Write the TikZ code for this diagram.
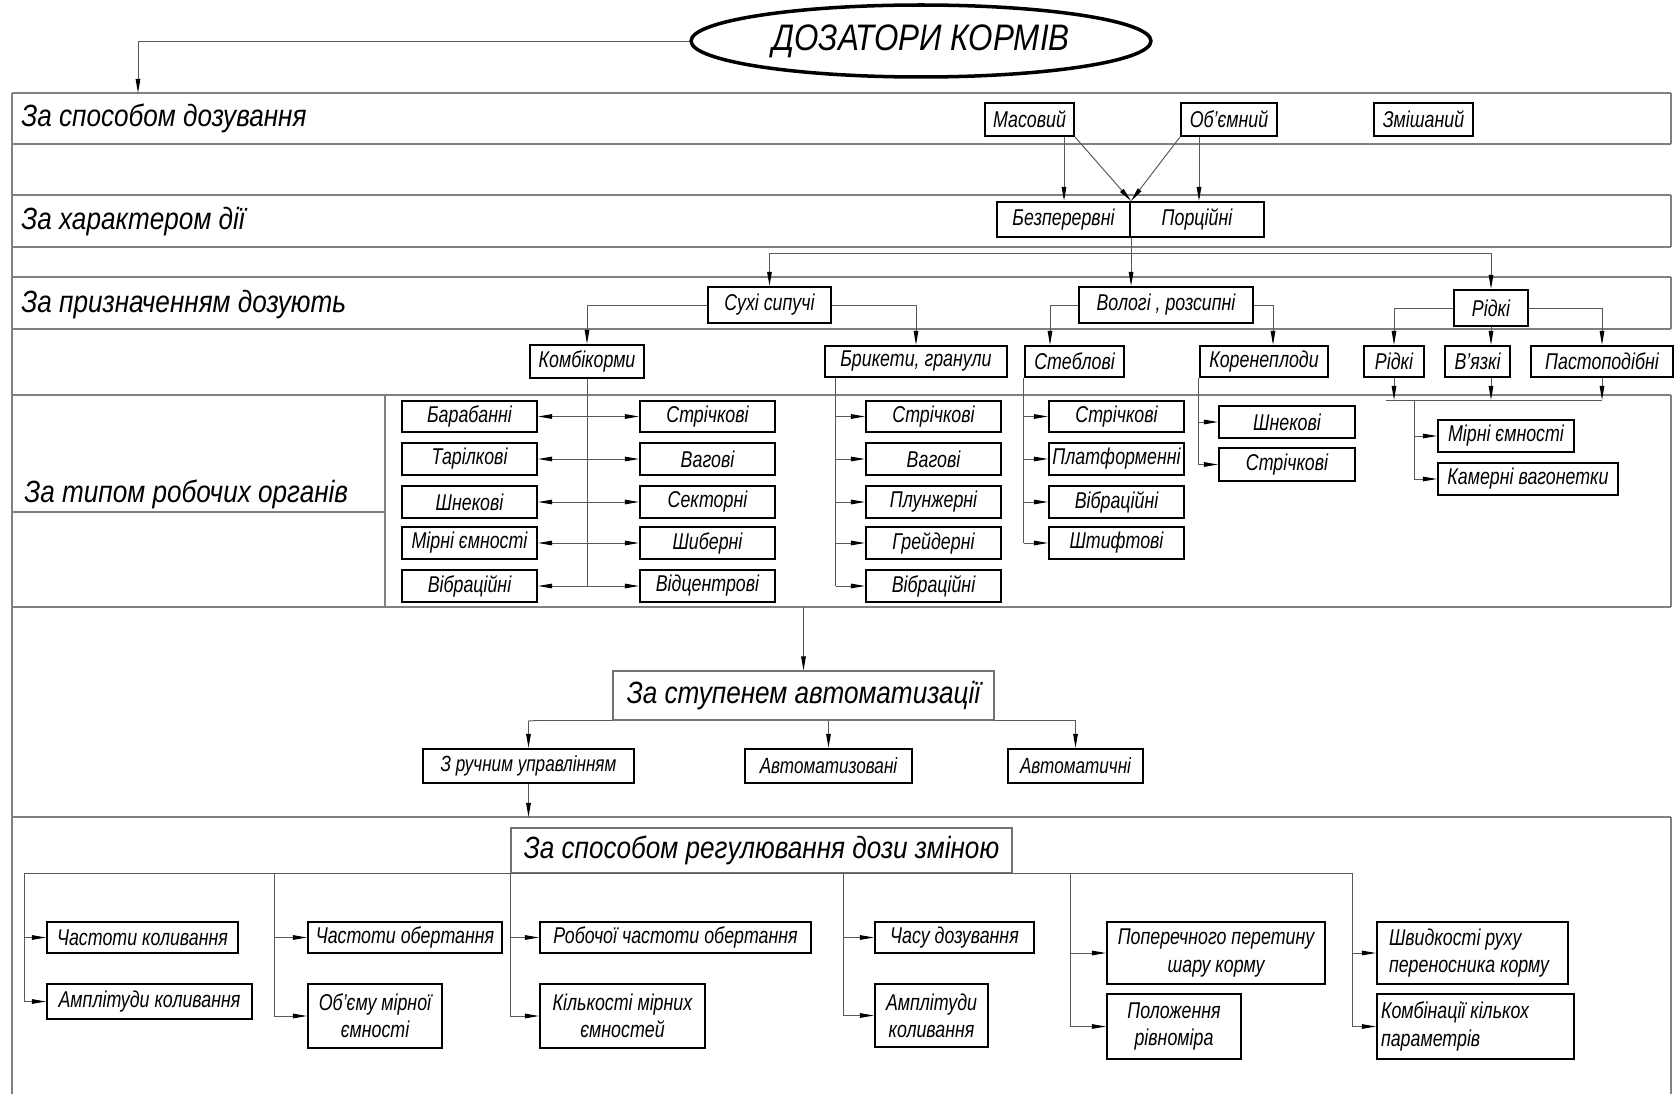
\documentclass[tikz,border=0pt]{standalone}
\usepackage{fontspec}
\setmainfont{Liberation Sans}[FakeStretch=0.85]
\newfontfamily\myBoxFam{Liberation Sans}[FakeStretch=0.78]
\usetikzlibrary{shapes.geometric,arrows.meta,calc}
\newcommand\myBxFont{\myBoxFam\fontsize{13}{15.5}\selectfont\itshape}
\newcommand\mySmFont{\myBoxFam\fontsize{12.5}{14}\selectfont\itshape}
\newcommand\myHdFont{\fontsize{17.5}{20}\selectfont\itshape}
\newcommand\myTtFont{\fontsize{21}{24}\selectfont\itshape}
\newcommand\mybox[7][]{\node[bx,minimum width={(#5-#3)*0.02cm},minimum height={(#6-#4)*0.02cm},#1] (#2) at ({(#3+#5)/2},{(#4+#6)/2}) {#7};}
\tikzset{
 bx/.style={draw=black, line width=1.2pt, fill=white, inner sep=0pt, align=center, font=\myBxFont},
 hdr/.style={draw=black!55, line width=0.6pt, font=\myHdFont},
 band/.style={draw=black!50, line width=0.7pt},
 conn/.style={draw=black!65, line width=0.55pt},
 arr/.style={conn, -{Triangle[length=8pt,width=2.6pt,color=black]}},
 darr/.style={conn, {Triangle[length=8pt,width=2.6pt,color=black]}-{Triangle[length=8pt,width=2.6pt,color=black]}},
 lbl/.style={anchor=base west, inner sep=0pt, font=\myHdFont},
}
\begin{document}
\begin{tikzpicture}[x=0.02cm,y=-0.02cm]
\useasboundingbox (0,0) rectangle (1679,1094);
\fill[white] (0,0) rectangle (1679,1094);
% bands
\foreach \yy in {93,144,195,247,277,329,395,607,817}
  \draw[band] (12,\yy) -- (1671,\yy);
\draw[band] (12,93) -- (12,1094);
\draw[band] (1671,93) -- (1671,144);
\draw[band] (1671,195) -- (1671,247);
\draw[band] (1671,277) -- (1671,329);
\draw[band] (1671,395) -- (1671,607);
\draw[band] (1671,817) -- (1671,1094);
\draw[band] (12,512) -- (385,512);
\draw[band] (385,395) -- (385,607);
% band labels
\node[lbl] (l1) at (21,127) {За способом дозування};
\node[lbl] (l2) at (21,230) {За характером дії};
\node[lbl] (l3) at (21,313) {За призначенням дозують};
\node[lbl] (l4) at (24,502) {За типом робочих органів};
% title
\node[ellipse, draw, line width=2pt, fill=white, minimum width=9.2cm, minimum height=1.44cm, inner sep=0pt, font=\myTtFont] (title) at (921,41) {ДОЗАТОРИ КОРМІВ};
\coordinate (c1) at (138,93);
\draw[arr] (title.west) -| (c1);
% row 1
\mybox{mas}{985}{103}{1074}{136}{Масовий}
\mybox{obj}{1181}{103}{1277}{136}{Об’ємний}
\mybox{zmi}{1374}{103}{1473}{136}{Змішаний}
% row 2
\mybox{bez}{997}{202}{1130}{237}{Безперервні}
\mybox{por}{1130}{202}{1264}{237}{Порційні}
\draw[arr] (mas.south -| 1064,0) -- (bez.north -| 1064,0);
\draw[arr] (mas.south east) -- (bez.north east);
\draw[arr] (obj.south west) -- (bez.north east);
\draw[arr] (obj.south -| 1199,0) -- (por.north -| 1199,0);
% row 3
\mybox{suh}{708}{287}{831}{323}{Сухі сипучі}
\mybox{vol}{1079}{287}{1253}{323}{Вологі , розсипні}
\mybox{rid}{1454}{290}{1528}{326}{Рідкі}
\coordinate (bus) at (1130,253);
\draw[arr] (bez.south east) -- (bez.south east |- vol.north);
\draw[arr] (bus) -| (suh.north);
\draw[arr] (bus) -| (rid.north);
% row 4
\mybox{kom}{530}{345}{644}{378}{Комбікорми}
\mybox{bri}{825}{346}{1007}{377}{Брикети, гранули}
\mybox{ste}{1025}{346}{1124}{377}{Стеблові}
\mybox{kor}{1200}{346}{1328}{377}{Коренеплоди}
\mybox{rid2}{1364}{346}{1424}{377}{Рідкі}
\mybox{vja}{1445}{346}{1510}{377}{В’язкі}
\mybox{pas}{1531}{346}{1673}{377}{Пастоподібні}
\draw[arr] (suh.west) -| (kom.north);
\draw[arr] (suh.east) -| (bri.north);
\draw[arr] (vol.west) -| ([xshift=-0.49cm]ste.north);
\draw[arr] (vol.east) -| ([xshift=0.18cm]kor.north);
\draw[arr] (rid.west) -| (rid2.north);
\draw[arr] (rid.east) -| (pas.north);
\draw[arr] (rid.south) -- (rid.south |- vja.north);
% Kombikormy subtree
\mybox{L1}{402}{401}{537}{432}{Барабанні}
\mybox{L2}{402}{443}{537}{475}{Тарілкові}
\mybox{L3}{402}{486}{537}{518}{Шнекові}
\mybox{L4}{402}{527}{537}{559}{Мірні ємності}
\mybox{L5}{402}{570}{537}{602}{Вібраційні}
\mybox{R1}{640}{401}{775}{432}{Стрічкові}
\mybox{R2}{640}{443}{775}{475}{Вагові}
\mybox{R3}{640}{486}{775}{518}{Секторні}
\mybox{R4}{640}{527}{775}{559}{Шиберні}
\mybox{R5}{640}{570}{775}{602}{Відцентрові}
\draw[conn] (kom.south) -- (kom.south |- L5.east);
\foreach \i in {1,...,5} \draw[darr] (L\i.east) -- (R\i.west);
% Bryketu subtree
\mybox{B1}{866}{401}{1001}{432}{Стрічкові}
\mybox{B2}{866}{443}{1001}{475}{Вагові}
\mybox{B3}{866}{486}{1001}{518}{Плунжерні}
\mybox{B4}{866}{527}{1001}{559}{Грейдерні}
\mybox{B5}{866}{570}{1001}{602}{Вібраційні}
\coordinate (bv) at ([xshift=0.24cm]bri.south west);
\draw[conn] (bv) -- (bv |- B5.west);
\foreach \i in {1,...,5} \draw[arr] (bv |- B\i.west) -- (B\i.west);
% Steblovi subtree
\mybox{S1}{1049}{401}{1184}{432}{Стрічкові}
\mybox{S2}{1049}{443}{1184}{475}{Платформенні}
\mybox{S3}{1049}{486}{1184}{518}{Вібраційні}
\mybox{S4}{1049}{527}{1184}{559}{Штифтові}
\draw[conn] (ste.south west) -- (ste.south west |- S4.west);
\foreach \i in {1,...,4} \draw[arr] (ste.south west |- S\i.west) -- (S\i.west);
% Koreneplody subtree
\mybox{K1}{1219}{406}{1355}{438}{Шнекові}
\mybox{K2}{1219}{448}{1355}{481}{Стрічкові}
\draw[conn] (kor.south west) -- (kor.south west |- K2.west);
\foreach \i in {1,2} \draw[arr] (kor.south west |- K\i.west) -- (K\i.west);
% Ridki subtree
\mybox{mir}{1438}{420}{1574}{452}{Мірні ємності}
\mybox{kam}{1438}{463}{1618}{495}{Камерні вагонетки}
\coordinate (lbus) at (1414,400);
\draw[arr] (rid2.south) -- (rid2.south |- lbus);
\draw[arr] (rid.south |- vja.south) -- (rid.south |- lbus);
\draw[arr] (pas.south) -- (pas.south |- lbus);
\draw[conn] ([xshift=-0.16cm]rid2.south |- lbus) -- (pas.south |- lbus);
\draw[arr] (lbus) |- (mir.west);
\draw[arr] (lbus) |- (kam.west);
% automation
\node[hdr, fill=white, inner sep=0pt, minimum width={381*0.02cm}, minimum height={49*0.02cm}] (stu) at ({(613+994)/2},{(671+720)/2}) {За ступенем автоматизації};
\coordinate (tb) at (805,607);
\draw[arr] (stu.north |- tb) -- (stu.north);
\mybox[font=\mySmFont]{ruc}{423}{749}{634}{783}{З ручним управлінням}
\mybox[font=\mySmFont]{aut}{745}{749}{912}{783}{Автоматизовані}
\mybox[font=\mySmFont]{avt}{1008}{749}{1143}{783}{Автоматичні}
\draw[conn] (stu.south west) -- ([xshift=-1.52cm]stu.south west);
\draw[arr] ([xshift=-1.52cm]stu.south west) -- (ruc.north |- 0,721) -- (ruc.north);
\draw[arr] (stu.south east) -| (avt.north);
\draw[arr] (aut.north |- stu.south) -- (aut.north);
\coordinate (rb) at (529,817);
\draw[arr] (ruc.south) -- (ruc.south |- rb);
% regulation
\node[hdr, fill=white, inner sep=0pt, minimum width={501*0.02cm}, minimum height={45*0.02cm}] (reg) at ({(511+1012)/2},{(828+873)/2}) {За способом регулювання дози зміною};
\coordinate (bl) at (24,873);
\coordinate (b2) at (274,873);
\coordinate (b4) at (843,873);
\coordinate (b5) at (1070,873);
\coordinate (br) at (1352,873);
\draw[conn] (bl) -- (br);
\mybox{A1}{47}{922}{238}{953}{Частоти коливання}
\mybox{A2}{47}{984}{252}{1019}{Амплітуди коливання}
\mybox{P1}{308}{922}{502}{953}{Частоти обертання}
\mybox{P2}{308}{984}{442}{1048}{Об’єму мірної\\ємності}
\mybox{Q1}{540}{922}{811}{953}{Робочої частоти обертання}
\mybox{Q2}{540}{984}{705}{1048}{Кількості мірних\\ємностей}
\mybox{T1}{875}{922}{1034}{953}{Часу дозування}
\mybox{T2}{875}{984}{988}{1047}{Амплітуди\\коливання}
\mybox{U1}{1107}{922}{1325}{984}{Поперечного перетину\\шару корму}
\mybox{U2}{1107}{994}{1241}{1059}{Положення\\рівноміра}
\mybox[align=flush left,text width={167*0.02cm}]{V1}{1377}{922}{1568}{984}{Швидкості руху\\переносника корму}
\mybox[align=flush left,text width={189*0.02cm}]{V2}{1377}{994}{1574}{1059}{Комбінації кількох\\параметрів}
\draw[arr] (bl) |- (A1.west);
\draw[arr] (bl) |- (A2.west);
\draw[arr] (b2) |- (P1.west);
\draw[arr] (b2) |- (P2.west);
\draw[arr] (reg.south west) |- (Q1.west);
\draw[arr] (reg.south west) |- (Q2.west);
\draw[arr] (b4) |- (T1.west);
\draw[arr] (b4) |- (T2.west);
\draw[arr] (b5) |- (U1.west);
\draw[arr] (b5) |- (U2.west);
\draw[arr] (br) |- (V1.west);
\draw[arr] (br) |- (V2.west);
\end{tikzpicture}
\end{document}
